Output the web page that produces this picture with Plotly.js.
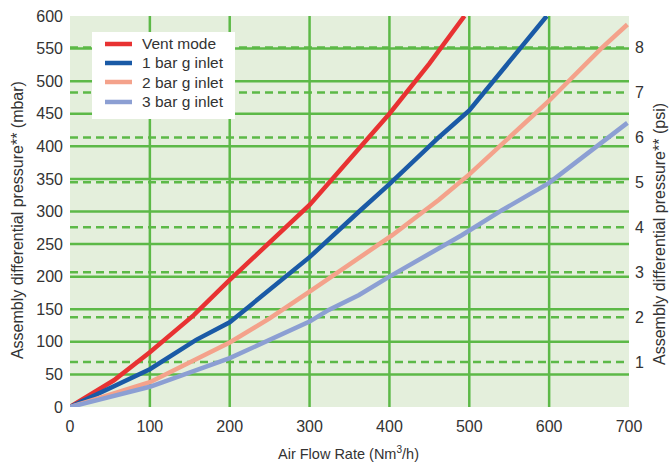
<!DOCTYPE html>
<html>
<head>
<meta charset="utf-8">
<script src="https://cdn.plot.ly/plotly-3.0.1.min.js"></script>
<style>html,body{margin:0;padding:0;background:#fff;}#chart{width:672px;height:463px;}</style>
</head>
<body>
<div id="chart"></div>
<script>
// Data
const seriesNames = ["Vent mode", "1 bar g inlet", "2 bar g inlet", "3 bar g inlet"];

const ventX = [0, 55, 100, 155, 200, 300, 400, 450, 494];
const ventY = [0, 41, 84, 141, 195, 310, 450, 527, 600];

const bar1X = [0, 100, 158, 200, 224, 300, 362, 400, 462, 500, 597];
const bar1Y = [0, 58, 103, 130, 154, 230, 300, 342, 414, 455, 600];

const bar2X = [0, 100, 200, 250, 300, 362, 404, 462, 488, 500, 600, 665, 698];
const bar2Y = [0, 38, 99, 136, 177, 228, 264, 318, 345, 357, 470, 550, 587];

const bar3X = [0, 50, 100, 200, 300, 324, 362, 400, 491, 541, 600, 698];
const bar3Y = [0, 15, 31, 75, 131, 149, 172, 200, 264, 302, 344, 436];

// Axis ticks and grid positions
const mbarTicks = [0, 50, 100, 150, 200, 250, 300, 350, 400, 450, 500, 550, 600];
const mbarGrid = [50, 100, 150, 200, 250, 300, 350, 400, 450, 500, 550];
const psiTicks = [1, 2, 3, 4, 5, 6, 7, 8];
const flowTicks = [0, 100, 200, 300, 400, 500, 600, 700];
const flowGrid = [100, 200, 300, 400, 500, 600];
const MBAR_PER_PSI = 68.9476;

const xTitle = "Air Flow Rate (Nm<sup>3</sup>/h)";
const yTitleLeft = "Assembly differential pressure** (mbar)";
const yTitleRight = "Assembly differential pressure** (psi)";

const colors = ["#e83232", "#1a5aa6", "#f4a28b", "#8c9fd3"];
const xs = [ventX, bar1X, bar2X, bar3X];
const ys = [ventY, bar1Y, bar2Y, bar3Y];

const traces = seriesNames.map((n, i) => ({
  x: xs[i], y: ys[i], name: n, type: "scatter", mode: "lines",
  line: {color: colors[i], width: 4.5},
  hoverinfo: "skip", showlegend: false
}));
traces.push({x: [null], y: [null], yaxis: "y2", showlegend: false, mode: "lines", hoverinfo: "skip"});

const grid = "#5cb947";
const fontFam = "Liberation Sans, Arial, sans-serif";
const txt = "#333333";

const shapes = [];
flowGrid.forEach(v => shapes.push({type: "line", xref: "x", yref: "paper", x0: v, x1: v, y0: 0, y1: 1, layer: "below", line: {color: grid, width: 2.5}}));
mbarGrid.forEach(v => shapes.push({type: "line", xref: "paper", yref: "y", x0: 0, x1: 1, y0: v, y1: v, layer: "below", line: {color: grid, width: 2.5}}));
psiTicks.forEach(v => shapes.push({type: "line", xref: "paper", yref: "y2", x0: 0, x1: 1, y0: v, y1: v, layer: "below", line: {color: grid, width: 2.5, dash: "8px,5px"}}));

// Legend (drawn as box + sample lines + texts)
const legX0 = 0.0394, legX1 = 0.2952, legY0 = 0.7366, legY1 = 0.9591;
const legRows = [0.9284, 0.8798, 0.8312, 0.7801];
shapes.push({type: "rect", xref: "paper", yref: "paper", x0: legX0, x1: legX1, y0: legY0, y1: legY1, layer: "above", fillcolor: "#ffffff", line: {width: 0}});
const annotations = [];
seriesNames.forEach((n, i) => {
  shapes.push({type: "line", xref: "paper", yref: "paper", x0: 0.0626, x1: 0.1109, y0: legRows[i], y1: legRows[i], layer: "above", line: {color: colors[i], width: 4.5}});
  annotations.push({text: n, xref: "paper", yref: "paper", x: 0.1252, y: legRows[i], xanchor: "left", yanchor: "middle", showarrow: false, font: {size: 15.5, color: txt}});
});
annotations.push({text: xTitle, xref: "paper", yref: "paper", x: 0.499, y: -0.1176, xanchor: "center", yanchor: "middle", showarrow: false, font: {size: 14.5, color: txt}});
annotations.push({text: yTitleLeft, xref: "paper", yref: "paper", x: -0.0948, y: 0.478, xanchor: "center", yanchor: "middle", textangle: -90, showarrow: false, font: {size: 16, color: txt}});
annotations.push({text: yTitleRight, xref: "paper", yref: "paper", x: 1.0555, y: 0.4425, xanchor: "center", yanchor: "middle", textangle: -90, showarrow: false, font: {size: 16, color: txt}});

const layout = {
  width: 672, height: 463,
  margin: {l: 70, r: 43, t: 16, b: 56, pad: 0},
  paper_bgcolor: "#ffffff",
  plot_bgcolor: "#e4efdc",
  font: {family: fontFam, size: 16, color: txt},
  showlegend: false,
  shapes: shapes,
  annotations: annotations,
  xaxis: {
    range: [0, 700], tickvals: flowTicks, ticks: "", showline: false, zeroline: false,
    showgrid: false, ticklabelstandoff: 8,
    tickfont: {size: 16, color: txt}, fixedrange: true
  },
  yaxis: {
    range: [0, 600], tickvals: mbarTicks, ticks: "", showline: false, zeroline: false,
    showgrid: false, ticklabelstandoff: 6,
    tickfont: {size: 16, color: txt}, fixedrange: true
  },
  yaxis2: {
    overlaying: "y", side: "right",
    range: [0, 600 / MBAR_PER_PSI], tickvals: psiTicks, ticks: "", showline: false, zeroline: false,
    showgrid: false, ticklabelstandoff: 5,
    tickfont: {size: 16, color: txt}, fixedrange: true
  }
};

Plotly.newPlot("chart", traces, layout, {displayModeBar: false, staticPlot: true});
</script>
</body>
</html>
